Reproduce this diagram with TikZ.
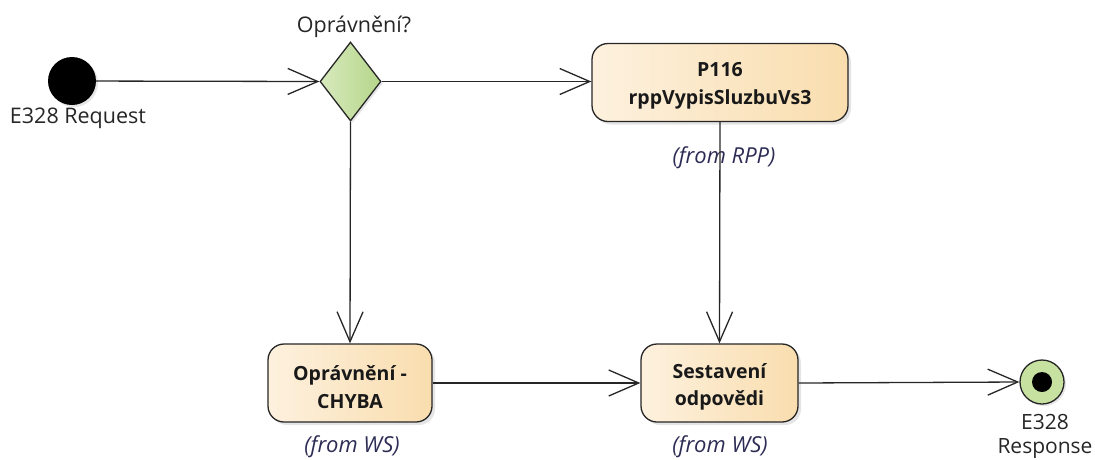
\documentclass[tikz,border=0pt]{standalone}
\usepackage{fontspec}
\setmainfont{Open Sans}
\usetikzlibrary{arrows.meta,shapes.geometric,shadows}
\definecolor{boxL}{HTML}{FDF1DE}
\definecolor{boxR}{HTML}{F9DDAE}
\definecolor{dmL}{HTML}{D8EABD}
\definecolor{dmR}{HTML}{B5D58A}
\definecolor{fromc}{HTML}{2C2C55}
\definecolor{endg}{HTML}{C6E1A0}
\tikzset{
  flow/.style={draw=black!85, line width=1.3pt, -{Straight Barb[length=30pt,width=26pt,line width=1.3pt]}},
  action/.style={draw=black!85, line width=1.3pt, rounded corners=16pt, left color=boxL, right color=boxR,
    minimum height=78pt,
    drop shadow={shadow xshift=3pt, shadow yshift=-3pt, opacity=0.25, fill=black!40}},
  actiontext/.style={align=center, font=\fontsize{19.5}{27.5}\selectfont\bfseries, text=black!90, inner sep=0pt},
  fromlbl/.style={font=\fontsize{22}{24}\selectfont\itshape, text=fromc},
  lbl/.style={font=\fontsize{21.5}{24}\selectfont, text=black!85},
}
\begin{document}
\begin{tikzpicture}[x=1pt,y=-1pt]
\useasboundingbox (0,0) rectangle (1095,459);
% start
\node[circle, fill=black, minimum size=48pt, inner sep=0pt,
  drop shadow={shadow xshift=2pt, shadow yshift=-2pt, opacity=0.2}] (start) at (72,81) {};
\node[lbl, anchor=center] (startlbl) at (78,118) {E328 Request};
% decision
\node[diamond, draw=black!85, line width=1.3pt, left color=dmL, right color=dmR,
  minimum width=61pt, minimum height=79pt, inner sep=0pt, aspect=0.77,
  drop shadow={shadow xshift=2pt, shadow yshift=-2pt, opacity=0.2}] (dec) at (350.5,81.5) {};
\node[lbl] (declbl) at (354,27) {Oprávnění?};
% P116
\node[action, minimum width=256pt] (p116) at (720,82.5) {};
\node[actiontext] (p116t) at ([yshift=-3.5pt]p116.center) {P116\\rppVypisSluzbuVs3};
\node[fromlbl] (p116from) at (724,158) {(from RPP)};
% CHYBA
\node[action, minimum width=164pt] (chyba) at (350,383) {};
\node[actiontext] (chybat) at ([yshift=-4pt]chyba.center) {Oprávnění -\\CHYBA};
\node[fromlbl] (chybafrom) at (352,447) {(from WS)};
% Sestaveni
\node[action, minimum width=157pt] (sest) at (719.5,383) {};
\node[actiontext] (sestt) at ([yshift=-4pt]sest.center) {Sestavení\\odpovědi};
\node[fromlbl] (sestfrom) at (720,447) {(from WS)};
% end
\node[circle, draw=black!85, line width=1.3pt, fill=endg, minimum size=44pt, inner sep=0pt,
  drop shadow={shadow xshift=2pt, shadow yshift=-2pt, opacity=0.2}] (end) at (1042,382) {};
\node[circle, fill=black, minimum size=20pt, inner sep=0pt] (endin) at (end.center) {};
\node[lbl, align=center, font=\fontsize{21}{24}\selectfont] (endlbl) at (1045,436.5) {E328\\Response};
% flows
\draw[flow] (start) -- (dec.west);
\draw[flow] (dec.east) -- (p116.west |- dec.east);
\draw[flow] (dec.south) -- (chyba.north);
\draw[flow] (p116.south) -- (sest.north);
\draw[flow] (chyba.east) -- (sest.west);
\draw[flow] (sest.east) -- (end.west);
\end{tikzpicture}
\end{document}
